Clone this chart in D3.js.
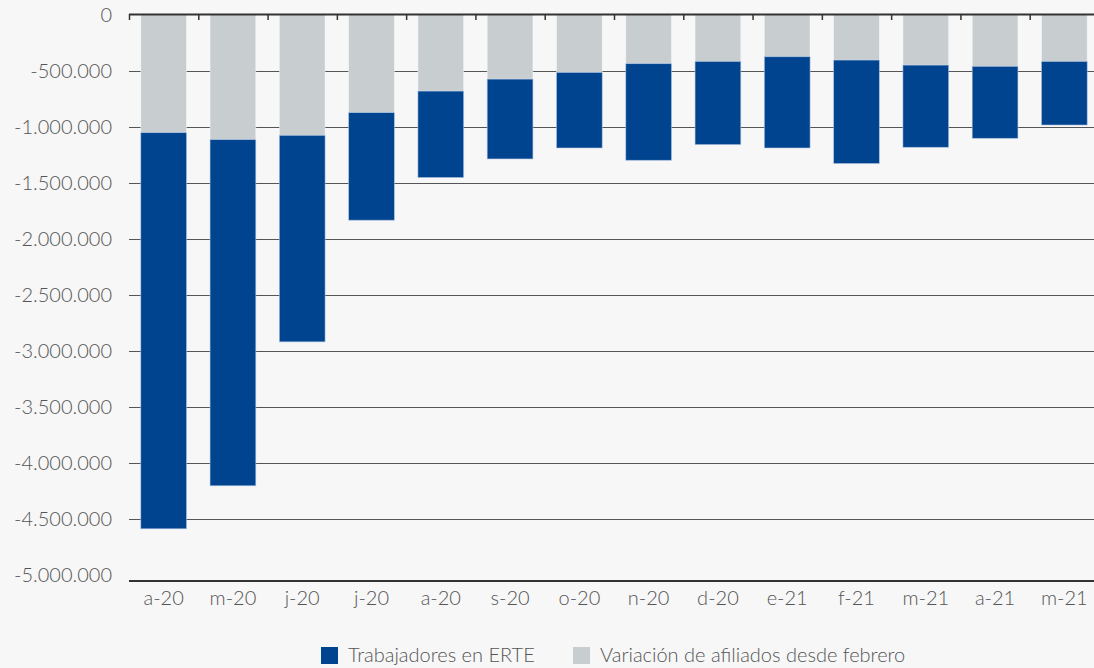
<!DOCTYPE html>
<html>
<head>
<meta charset="utf-8">
<script src="https://cdn.jsdelivr.net/npm/d3@7"></script>
<style>
  html, body { margin: 0; padding: 0; background: #f7f7f7; }
  svg { display: block; }
  text { font-family: Lato, "Open Sans", "DejaVu Sans", sans-serif; font-weight: 300; fill: #555; }
</style>
</head>
<body>
<svg id="chart" width="1094" height="668"></svg>
<script>
const categories = ["a-20","m-20","j-20","j-20","a-20","s-20","o-20","n-20","d-20","e-21","f-21","m-21","a-21","m-21"];
// Variación de afiliados desde febrero (negative)
const afiliados = [-1053000,-1115000,-1077000,-874000,-682000,-575000,-515000,-437000,-417000,-375000,-405000,-450000,-461000,-417000];
// Trabajadores en ERTE (negative, stacked below)
const erte = [-3537000,-3091000,-1844000,-961000,-772000,-713000,-675000,-863000,-743000,-815000,-924000,-734000,-643000,-568000];
const yTicks = [0,-500000,-1000000,-1500000,-2000000,-2500000,-3000000,-3500000,-4000000,-4500000,-5000000];
const seriesNames = ["Trabajadores en ERTE","Variación de afiliados desde febrero"];
const colors = {erte: "#00448f", afil: "#c8cdd0"};

const svg = d3.select("#chart");
const x = d3.scaleBand().domain(d3.range(categories.length)).range([129, 1099]).paddingInner(0.34).paddingOuter(0.17);
const y = d3.scaleLinear().domain([0, -5000000]).range([14.7, 574.7]);

const fmt = v => v === 0 ? "0" : d3.format(",")(v).replace(/,/g, ".").replace("−","-");

// gridlines
svg.append("g").selectAll("line").data(yTicks.filter(t => t !== 0 && t !== -5000000)).join("line")
  .attr("x1", 129).attr("x2", 1094)
  .attr("y1", d => Math.round(y(d)) + 0.5).attr("y2", d => Math.round(y(d)) + 0.5)
  .attr("stroke", "#555").attr("stroke-width", 1);

// bars: afiliados from 0
const data = categories.map((c, i) => ({i, c, a: afiliados[i], e: erte[i]}));
svg.append("g").selectAll("rect").data(data).join("rect")
  .attr("x", d => x(d.i)).attr("width", x.bandwidth())
  .attr("y", y(0)).attr("height", d => y(d.a) - y(0))
  .attr("fill", colors.afil).attr("stroke", "rgba(255,255,255,0.5)").attr("stroke-width", 0.8);
svg.append("g").selectAll("rect").data(data).join("rect")
  .attr("x", d => x(d.i)).attr("width", x.bandwidth())
  .attr("y", d => y(d.a)).attr("height", d => y(d.a + d.e) - y(d.a))
  .attr("fill", colors.erte).attr("stroke", "rgba(180,200,230,0.7)").attr("stroke-width", 0.8);

// top axis at 0 with ticks at category boundaries
const step = x.step();
svg.append("line").attr("x1", 129).attr("x2", 1094).attr("y1", 14.5).attr("y2", 14.5)
  .attr("stroke", "#333").attr("stroke-width", 2);
svg.append("g").selectAll("line").data(d3.range(categories.length + 1)).join("line")
  .attr("x1", d => 129.5 + d * step).attr("x2", d => 129.5 + d * step)
  .attr("y1", 14).attr("y2", 20).attr("stroke", "#333").attr("stroke-width", 1.5);

// bottom line
svg.append("line").attr("x1", 129).attr("x2", 1094).attr("y1", 581).attr("y2", 581)
  .attr("stroke", "#333").attr("stroke-width", 2);

// y labels
svg.append("g").selectAll("text").data(yTicks).join("text")
  .attr("x", 112).attr("y", d => y(d)).attr("dy", "0.35em")
  .attr("text-anchor", "end").attr("font-size", 20).text(fmt);

// x labels
svg.append("g").selectAll("text").data(data).join("text")
  .attr("x", d => x(d.i) + x.bandwidth() / 2).attr("y", 605)
  .attr("text-anchor", "middle").attr("font-size", 20).text(d => d.c);

// legend
const leg = svg.append("g");
const items = [{name: seriesNames[0], color: colors.erte, x: 321}, {name: seriesNames[1], color: colors.afil, x: 573}];
leg.selectAll("rect").data(items).join("rect")
  .attr("x", d => d.x).attr("y", 647).attr("width", 17).attr("height", 17).attr("fill", d => d.color);
leg.selectAll("text").data(items).join("text")
  .attr("x", d => d.x + 27).attr("y", 662).attr("font-size", 20).text(d => d.name);
</script>
</body>
</html>
